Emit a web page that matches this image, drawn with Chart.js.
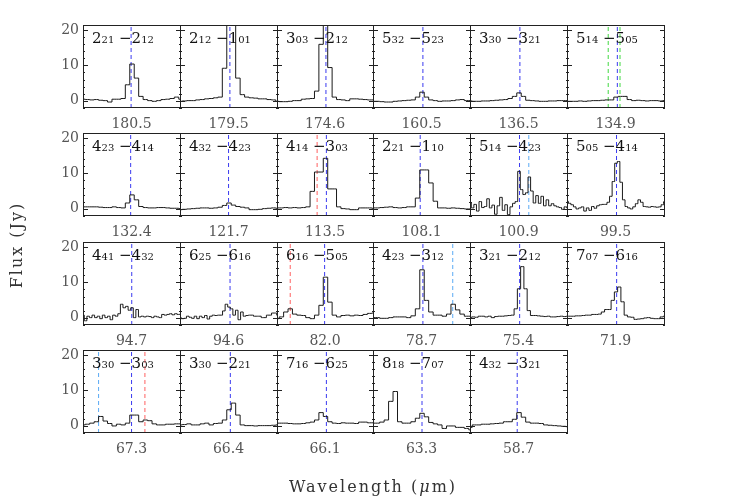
<!DOCTYPE html>
<html><head><meta charset="utf-8">
<script src="https://cdn.jsdelivr.net/npm/chart.js@4/dist/chart.umd.min.js"></script>
<style>
html,body{margin:0;padding:0;background:#fff;}
#wrap{position:relative;width:747px;height:498px;overflow:hidden;background:#fff;}
#wrap canvas{position:absolute;}
.lbl{position:absolute;font-family:"DejaVu Serif",serif;font-size:15px;line-height:15px;color:#111;white-space:nowrap;}
.lbl small{font-size:10px;}
.wl{position:absolute;font-family:"DejaVu Serif",serif;font-size:14px;line-height:14px;color:#555;white-space:nowrap;transform:translateX(-50%);}
.axt{position:absolute;font-family:"DejaVu Serif",serif;font-size:16px;line-height:16px;color:#333;letter-spacing:2px;white-space:nowrap;}
</style>
</head><body>
<div id="wrap"></div>
<script>
// ---- data ----
const wavelengths = ['180.5','179.5','174.6','160.5','136.5','134.9','132.4','121.7','113.5','108.1','100.9','99.5','94.7','94.6','82.0','78.7','75.4','71.9','67.3','66.4','66.1','63.3','58.7'];
const upperJ = ['2','2','3','5','3','5','4','4','4','2','5','5','4','6','6','4','3','7','3','3','7','8','4'];
const upperK = ['21','12','03','32','30','14','23','32','14','21','14','05','41','25','16','23','21','07','30','30','16','18','32'];
const lowerJ = ['2','1','2','5','3','5','4','4','3','1','4','4','4','6','5','3','2','6','3','2','6','7','3'];
const lowerK = ['12','01','12','23','21','05','14','23','03','10','23','14','32','16','05','12','12','16','03','21','25','07','21'];

const f1805 = [0.4,0.3,0.2,0.3,0.1,0,-0.4,0.4,0.4,0.6,4.5,10.4,6.4,1.2,0.3,0,-0.2,0,0.3,0.4,0.6,1.0,0.4];
const f1795 = [-0.2,-0.1,0,0,0.2,0.3,0.5,0.6,0.8,1.0,9.2,40,30,6.4,1.7,1.0,0.8,0.7,0.5,0.5,0.3,0.2,-0.2];
const f1746 = [-0.2,-0.3,-0.3,-0.2,0,0,0.4,0.5,0.6,2.7,16,40,9.4,1.0,0.3,0.2,0,0.5,0.5,0.4,0.3,0.2,0.2];
const f1605 = [-0.2,-0.2,-0.3,-0.4,-0.4,-0.2,-0.1,0,0.1,0.2,1.0,2.4,1.0,0.2,0,-0.2,-0.1,-0.1,0,0.2,0.3,0,0];
const f1365 = [-0.1,-0.2,-0.2,-0.1,-0.1,0,0.1,0.2,0.3,0.6,1.2,2.2,1.2,0.1,0,-0.1,-0.2,-0.2,-0.1,-0.1,0,0,0];
const f1349 = [-0.2,-0.2,-0.2,-0.1,-0.2,-0.1,0,0,0.1,0.2,0.2,1.0,1.2,1.2,0.3,0,0.1,0,-0.1,0,0,-0.1,0];
const f1324 = [0.5,0.5,0.5,0.5,0.4,0.3,0.3,0.5,0.3,0.2,1.6,3.9,2.5,0.6,0.3,0.2,0.2,0.3,0.3,0.2,0.1,0.1,0];
const f1217 = [-0.3,-0.2,-0.1,0,0.1,0.2,0.2,0.1,0.2,0.4,0.9,1.6,1.0,0.6,0.4,0.2,-0.3,-0.3,-0.2,0,0.1,0.2,0.1];
const f1135 = [0.2,0.2,0.3,0.2,0.3,0.2,0.3,0.5,4.9,10.4,10.4,14.3,5.6,5.6,0.5,0,-0.1,-0.3,-0.3,0.2,0.2,0.2,0.1];
const f1081 = [0.2,0.2,0.3,0.4,0.5,0.3,0.2,0.3,0.5,0.5,3.0,11.0,11.0,7.3,2.1,0.2,0.2,0.1,0.2,0.1,0,-0.1,-0.1];
const f1009 = [1.6,0.2,1.2,-0.7,2.0,0.3,0.6,2.8,0.2,1.0,-1.6,0.8,3.2,-0.5,1.1,-1.7,0.5,1.5,2.0,10.6,5.4,4.0,4.5,9.0,5.0,1.6,3.7,1.5,3.5,0.8,2.5,0.8,1.4,0.8,0.5,0.3,-0.2,0.5,0.2];
const f995 = [2.1,1.5,1.1,0.5,-0.1,0.2,0.5,-0.7,0.2,-0.5,0.6,0.1,0.8,1.1,1.2,1.2,1.8,3.5,7.7,12.9,13.4,7.5,2.5,0.6,0.2,-0.1,0.5,1.4,2.5,1.8,0.6,0.5,0.4,0.6,0.5,0.4,0.5,1.1,2.0];
const f947 = [0.7,-0.9,0.4,0,0.7,0,0.4,-0.3,0.7,0,0.4,-0.6,0.7,0.4,1.1,3.8,2.8,3.2,2.1,2.8,0,2.3,0.2,0.4,0.2,0.4,0.3,0,0.4,0.2,0,0.9,0.7,0.9,1.1,0.8,1.1,0.9,1.0];
const f946 = [0,-0.3,-0.2,0.4,0.1,-0.2,0.4,-0.3,0.4,0,0.6,-0.4,0.4,0.7,0.6,0.7,0.7,1.9,3.8,3.0,2.5,0.7,2.1,-0.6,1.6,0.4,0.6,0.7,0.7,0.4,0.4,0.4,0,0,0.7,0.7,1.3,1.3,0.7];
const f820 = [-0.3,0.2,1.6,2.5,1.0,0.7,0.6,0,-0.3,0.7,3.5,11.5,4.4,0.7,0.2,0.6,0.7,0.5,0.7,0.6,0.9,1.2,1.3];
const f787 = [0,0,-0.2,-0.2,0,0.2,0.2,0.2,0,0.5,2.5,13.6,4.9,1.6,0.7,0.7,0.4,1.0,3.8,2.2,1.0,0.4,0.4];
const f754 = [0,0.2,0.1,0.4,0.4,0.2,0.4,0,0.3,0.4,0.4,0.5,0.6,0.7,2.5,8.2,14.5,8.2,2.0,0.6,0.6,0.5,0.4,0.3,0.4,0.2,0.2,0.3,0.4,0.3,0.4];
const f719 = [0.4,0.4,0.4,0.5,0.5,0.6,0.7,0.7,0.9,0.9,1.0,1.6,2.3,2.3,4.9,7.3,8.7,4.5,0.7,0.2,0.1,-0.5,-0.4,-0.3,-0.1,0,-0.2,-0.3,-0.3,0.2,0.4];
const f673 = [0.2,0.4,0.7,1.1,2.6,1.3,0.6,-0.1,0.4,0.2,0.7,3.0,3.0,1.1,1.6,1.4,0.5,0.2,0.2,0.4,0.4,0.5,0.5];
const f664 = [0.2,0.3,0.5,0.2,0.2,0.5,0.7,0.2,0.6,0.7,1.6,4.5,6.4,3.0,0.2,0,0,-0.1,0,0,0,0.1,0.2];
const f661 = [0.7,0.7,0.7,0.6,0.5,0.5,0.6,0.8,1.0,1.6,3.7,2.6,1.1,0.7,0.6,0.8,0.7,0.7,0.6,1.0,1.0,0.8,0.8];
const f633 = [0.7,0.7,1.0,1.6,6.9,9.7,1.1,0.7,0.7,1.1,2.1,3.5,2.5,0.9,0.5,0.2,-0.8,-0.1,-0.1,-0.5,-0.5,-0.8,-1.2];
const f587 = [-0.5,0.2,0.2,0.4,0.4,0.5,0.6,0.7,1.1,1.1,1.8,3.7,2.4,1.0,0.7,0.7,0.6,0.2,0.1,0,-0.1,-0.2,-0.3];
const fluxes = [f1805,f1795,f1746,f1605,f1365,f1349,f1324,f1217,f1135,f1081,f1009,f995,f947,f946,f820,f787,f754,f719,f673,f664,f661,f633,f587];

// line-marker positions (in bin units) and their colour codes
const markerPos = [[10.8],[11.2],[11.1],[11.2],[11.2],[9.25,11.3,11.9],[10.7],[10.9],[9.1,11.2],[10.6],[19.2,22.8],[19.2],
                   [18.9],[19.4],[3.0,10.8],[11.2,17.9],[15.2],[15.2],[3.5,10.9,13.9],[11.3],[11.2],[11.0],[10.6]];
const markerCol = [['b'],['b'],['b'],['b'],['b'],['g','b','g'],['b'],['b'],['r','b'],['b'],['b','c'],['b'],
                   ['b'],['b'],['r','b'],['b','c'],['b'],['b'],['c','b','r'],['b'],['b'],['b'],['b']];
const yTicks = [0,10,20];
const Y_MIN = -2.1, Y_MAX = 21.5;

// ---- layout / style ----
const colours = {b:'#3a3af0', r:'#ff6060', c:'#5aaaf5', g:'#40d840'};
const colLeft = [83,180,277,373,470,567,664];
const rowTop = [25,133,242,350];
const PANEL_H = 83, PAD = 10, YAXIS_W = 43;
const wrap = document.getElementById('wrap');

const framePlugin = {
  id:'frame',
  afterDatasetsDraw(chart){
    const {ctx, chartArea:a, scales:{y}} = chart;
    const L = Math.round(a.left), T = Math.round(a.top), R = Math.round(a.right), B = Math.round(a.bottom);
    ctx.save();
    ctx.strokeStyle = '#222'; ctx.lineWidth = 1;
    ctx.strokeRect(L+0.5, T+0.5, R-L-1, B-T-1);
    ctx.beginPath();
    for (let v = -2; v <= 21; v += 2) {
      const py = Math.round(y.getPixelForValue(v)) + 0.5;
      const len = (v % 10 === 0) ? 5 : 2;
      ctx.moveTo(L, py); ctx.lineTo(L+len, py);
      ctx.moveTo(R-len, py); ctx.lineTo(R, py);
    }
    ctx.stroke();
    ctx.restore();
  }
};

fluxes.forEach((flux, i) => {
  const r = Math.floor(i/6), c = i % 6;
  const first = c === 0;
  const cv = document.createElement('canvas');
  const w = colLeft[c+1] - colLeft[c] + 1 + (first ? YAXIS_W : 0);
  const h = PANEL_H + 2*PAD;
  cv.width = w; cv.height = h;
  cv.style.left = (colLeft[c] - (first ? YAXIS_W : 0)) + 'px';
  cv.style.top = (rowTop[r] - PAD) + 'px';
  cv.style.width = w + 'px'; cv.style.height = h + 'px';
  wrap.appendChild(cv);

  const datasets = [{
    data: flux.map((y, k) => ({x:k, y})),
    stepped: 'middle', borderColor:'#1a1a1a', borderWidth:1, pointRadius:0, fill:false
  }];
  markerPos[i].forEach((p, j) => {
    datasets.push({
      data: [{x:p, y:Y_MIN}, {x:p, y:Y_MAX}],
      borderColor: colours[markerCol[i][j]], borderWidth:1, borderDash:[4,3], pointRadius:0, fill:false
    });
  });

  const yOpts = {
    type:'linear', min:Y_MIN, max:Y_MAX, display:first,
    afterBuildTicks: s => { s.ticks = yTicks.map(v => ({value:v})); },
    grid:{display:false, drawTicks:false},
    border:{display:false},
    ticks:{color:'#555', font:{family:'DejaVu Serif', size:14}, padding:4}
  };
  if (first) yOpts.afterFit = s => { s.width = YAXIS_W; s.paddingTop = 0; s.paddingBottom = 0; };

  new Chart(cv, {
    type:'line',
    data:{datasets},
    options:{
      responsive:false, animation:false, devicePixelRatio:1,
      layout:{padding:{top:PAD, bottom:PAD, left:0, right:0}},
      plugins:{legend:{display:false}, tooltip:{enabled:false}},
      scales:{
        x:{type:'linear', min:0, max:flux.length-1, display:false},
        y:yOpts
      }
    },
    plugins:[framePlugin]
  });

  const lbl = document.createElement('div');
  lbl.className = 'lbl';
  lbl.style.left = (colLeft[c] + 9) + 'px';
  lbl.style.top = (rowTop[r] + 6) + 'px';
  lbl.innerHTML = upperJ[i] + '<small>' + upperK[i] + '</small> \u2212' + lowerJ[i] + '<small>' + lowerK[i] + '</small>';
  wrap.appendChild(lbl);

  const wl = document.createElement('div');
  wl.className = 'wl';
  wl.style.left = ((colLeft[c] + colLeft[c+1]) / 2) + 'px';
  wl.style.top = (rowTop[r] + 91) + 'px';
  wl.textContent = wavelengths[i];
  wrap.appendChild(wl);
});

const yt = document.createElement('div');
yt.className = 'axt';
yt.textContent = 'Flux (Jy)';
yt.style.left = '17px'; yt.style.top = '245px';
yt.style.transform = 'translate(-50%,-50%) rotate(-90deg)';
wrap.appendChild(yt);

const xt = document.createElement('div');
xt.className = 'axt';
xt.innerHTML = 'Wavelength (<i>\u03bc</i>m)';
xt.style.left = '373px'; xt.style.top = '487px';
xt.style.transform = 'translate(-50%,-50%)';
wrap.appendChild(xt);
</script>
</body></html>
